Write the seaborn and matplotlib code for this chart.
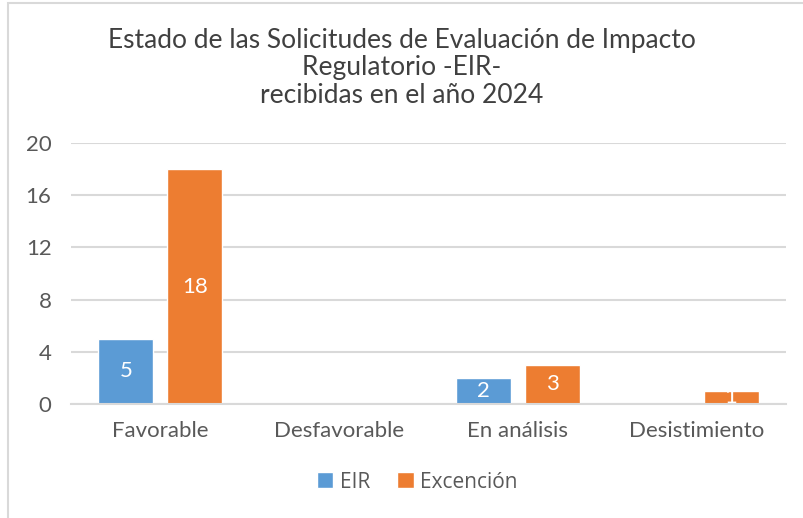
import pandas as pd
import matplotlib.pyplot as plt
import seaborn as sns
from matplotlib.patches import Rectangle
from matplotlib.font_manager import FontProperties

categories = ['Favorable', 'Desfavorable', 'En análisis', 'Desistimiento']
eir = [5, 0, 2, 0]
excencion = [18, 0, 3, 1]
series = ['EIR', 'Excención']
colors = ['#5B9BD5', '#ED7D31']

df = pd.DataFrame({
    'categoria': categories * 2,
    'valor': eir + excencion,
    'serie': [series[0]] * 4 + [series[1]] * 4,
})

sns.set_theme(style='white')
plt.rcParams['font.family'] = ['Lato', 'DejaVu Sans']

fig = plt.figure(figsize=(8.04, 5.18), dpi=100)
ax = fig.add_axes([71 / 804, 1 - 404 / 518, 715 / 804, 261 / 518])

sns.barplot(data=df, x='categoria', y='valor', hue='serie', palette=colors,
            width=0.77, gap=0.2, ax=ax, saturation=1, legend=True)

ax.set_ylim(0, 20)
ax.set_xlim(-0.5, 3.5)
ax.set_yticks([0, 4, 8, 12, 16, 20])
ax.yaxis.grid(True, color='#D9D9D9', linewidth=1.5)
ax.set_axisbelow(True)
for s in ['top', 'right', 'left']:
    ax.spines[s].set_visible(False)
ax.spines['bottom'].set_color('#D9D9D9')
ax.spines['bottom'].set_linewidth(1.5)
ax.set_xlabel('')
ax.set_ylabel('')
ax.tick_params(axis='both', length=0, labelsize=16, labelcolor='#595959')
ax.tick_params(axis='y', pad=14)
ax.tick_params(axis='x', pad=12)

for cont in ax.containers:
    labels = [f'{v:g}' if v > 0 else '' for v in cont.datavalues]
    ax.bar_label(cont, labels=labels, label_type='center', color='white',
                 fontsize=16)

legend_font = FontProperties(family='Open Sans', size=15)
ax.legend(loc='center', bbox_to_anchor=(417 / 804, 1 - 482 / 518),
          bbox_transform=fig.transFigure, ncol=2, frameon=False,
          handlelength=0.8, handleheight=0.8, handletextpad=0.3,
          columnspacing=1.3, labelcolor='#595959', prop=legend_font)

fig.text(0.5, 1 - 68 / 518,
         'Estado de las Solicitudes de Evaluación de Impacto\nRegulatorio -EIR-\nrecibidas en el año 2024',
         ha='center', va='center', fontsize=19,
         color='#404040', linespacing=1.12)

fig.patches.append(Rectangle((8 / 804, -0.1), 1.2, 1 - 3 / 518 + 0.1,
                             transform=fig.transFigure, fill=False,
                             edgecolor='#D9D9D9', linewidth=1.5))

fig.savefig('out.png', dpi=100)
